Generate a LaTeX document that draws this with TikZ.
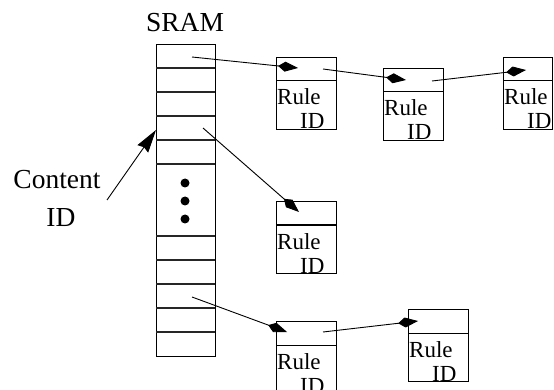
\documentclass[tikz,border=0pt]{standalone}
\usepackage{fontspec}
\setmainfont{Liberation Serif}
\usetikzlibrary{arrows.meta}
\begin{document}
\begin{tikzpicture}[x=1pt,y=-1pt,
  cellbox/.style={draw, line width=1.3pt, inner sep=0pt, anchor=north west, minimum width=59pt, minimum height=312pt},
  rowline/.style={line width=1.2pt, draw=black!85},
  rbox/.style={draw, line width=1pt, inner sep=0pt, anchor=north west, minimum width=60pt, minimum height=72pt},
  divline/.style={line width=1pt},
  rtext/.style={font=\fontsize{23}{23}\selectfont, inner sep=0pt, anchor=base west},
  bigtext/.style={font=\fontsize{27.5}{27.5}\selectfont, inner sep=0pt, anchor=base},
  link/.style={line width=0.9pt, -{Kite[length=20pt,width=10pt,inset=7pt]}},
  inlink/.style={line width=0.9pt, -{Stealth[length=23pt,width=13pt,inset=2pt]}},
  dotmark/.style={fill=black, circle, inner sep=0pt, minimum size=9pt}
]
\useasboundingbox (0,0) rectangle (554,390);

% SRAM column
\node[bigtext] (sramlabel) at (185,32) {SRAM};
\node[cellbox] (sram) at (156,44) {};
\foreach \yy in {68,92,116,140,164,236,260,284,308,332}
  \draw[rowline] (156,\yy) -- (215,\yy);
\node[dotmark] (d1) at (185,183) {};
\node[dotmark] (d2) at (185,201) {};
\node[dotmark] (d3) at (185,219) {};

% Content ID
\node[bigtext] (cid1) at (57,189) {Content};
\node[bigtext] (cid2) at (61,226) {ID};
\coordinate (cidtail) at (107,200);
\coordinate (cidhead) at (156,130);
\draw[inlink] (cidtail) -- (cidhead);

% Rule boxes
\newcommand\rulebox[4]{%
  \node[rbox, minimum width=#4] (#1) at (#2,#3) {};
  \draw[divline] (#2,#3+24) -- ++(#4,0);
  \node[rtext] (#1r) at (#2+1,#3+48) {Rule};
  \node[rtext] (#1i) at (#2+24,#3+72) {ID};
}
\rulebox{b1}{276}{57}{60pt}
\rulebox{b2}{383}{68}{60pt}
\rulebox{b3}{503}{57}{49pt}
\rulebox{b4}{276}{201}{60pt}
\rulebox{b5}{276}{321}{60pt}
\rulebox{b6}{408}{309}{60pt}

% connector points
\coordinate (s1) at (192,57);
\coordinate (t1) at (298,68);
\coordinate (s2) at (323,69);
\coordinate (t2) at (406,80);
\coordinate (s3) at (432,81);
\coordinate (t3) at (526,70);
\coordinate (s4) at (203,128);
\coordinate (t4) at (299,212);
\coordinate (s5) at (192,297);
\coordinate (t5) at (287,332);
\coordinate (s6) at (323,332);
\coordinate (t6) at (418,321);

\draw[link] (s1) -- (t1);
\draw[link] (s2) -- (t2);
\draw[link] (s3) -- (t3);
\draw[link] (s4) -- (t4);
\draw[link] (s5) -- (t5);
\draw[link] (s6) -- (t6);
\end{tikzpicture}
\end{document}
